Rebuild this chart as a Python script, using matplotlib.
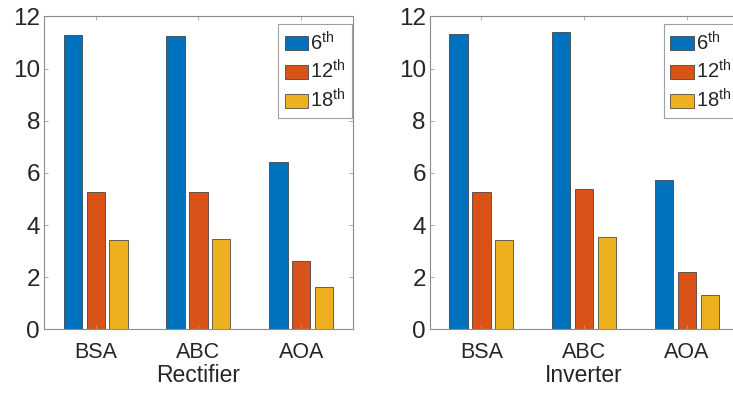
import numpy as np
import matplotlib
matplotlib.use('Agg')
import matplotlib.pyplot as plt

plt.rcParams['font.family'] = ['Liberation Sans', 'DejaVu Sans']
plt.rcParams['mathtext.fontset'] = 'custom'
plt.rcParams['mathtext.rm'] = 'Liberation Sans'
plt.rcParams['mathtext.it'] = 'Liberation Sans'

methods = ['BSA', 'ABC', 'AOA']
harmonics = ['6$^{\\mathrm{th}}$', '12$^{\\mathrm{th}}$', '18$^{\\mathrm{th}}$']
colors = ['#0072BD', '#D95319', '#EDB120']

rectifier_6 = [11.28, 11.24, 6.42]
rectifier_12 = [5.27, 5.27, 2.61]
rectifier_18 = [3.43, 3.47, 1.63]

inverter_6 = [11.31, 11.42, 5.73]
inverter_12 = [5.27, 5.38, 2.19]
inverter_18 = [3.43, 3.54, 1.32]

TEXT = '#262626'
AXC = '#8c8c8c'


def draw(ax, series, xlabel):
    x = np.arange(1, len(methods) + 1)
    step = 0.667 / 3
    width = step * 0.8
    for i, (vals, col, lab) in enumerate(zip(series, colors, harmonics)):
        ax.bar(x + (i - 1) * step, vals, width, color=col, edgecolor='#303030',
               linewidth=0.5, label=lab)
    ax.set_xlim(0.5, 3.5)
    ax.set_ylim(0, 12)
    ax.set_xticks(x)
    ax.set_xticklabels(methods)
    ax.set_yticks(range(0, 13, 2))
    ax.set_xlabel(xlabel, fontsize=16.5, color=TEXT, labelpad=1)
    ax.tick_params(direction='in', top=True, right=True, length=3, width=0.6,
                   color='#a0a0a0', labelcolor=TEXT)
    ax.tick_params(axis='x', labelsize=15.5, pad=9)
    ax.tick_params(axis='y', labelsize=17.5, pad=3)
    for s in ax.spines.values():
        s.set_color(AXC)
        s.set_linewidth(0.8)
    leg = ax.legend(loc='upper right', bbox_to_anchor=(0.998, 0.975),
                    fontsize=14.5, frameon=True, fancybox=False, borderaxespad=0,
                    handlelength=1.15, handleheight=0.72, handletextpad=0.1,
                    labelspacing=0.28, borderpad=0.33, framealpha=1)
    leg.get_frame().set_edgecolor('#a0a0a0')
    leg.get_frame().set_linewidth(0.8)
    for t in leg.get_texts():
        t.set_color(TEXT)


fig = plt.figure(figsize=(7.33, 3.94), dpi=100)
ax1 = fig.add_axes([0.0604, 0.1642, 0.4207, 0.7940])
ax2 = fig.add_axes([0.5866, 0.1642, 0.4207, 0.7940])

draw(ax1, [rectifier_6, rectifier_12, rectifier_18], 'Rectifier')
draw(ax2, [inverter_6, inverter_12, inverter_18], 'Inverter')

fig.savefig('out.png', dpi=100)
